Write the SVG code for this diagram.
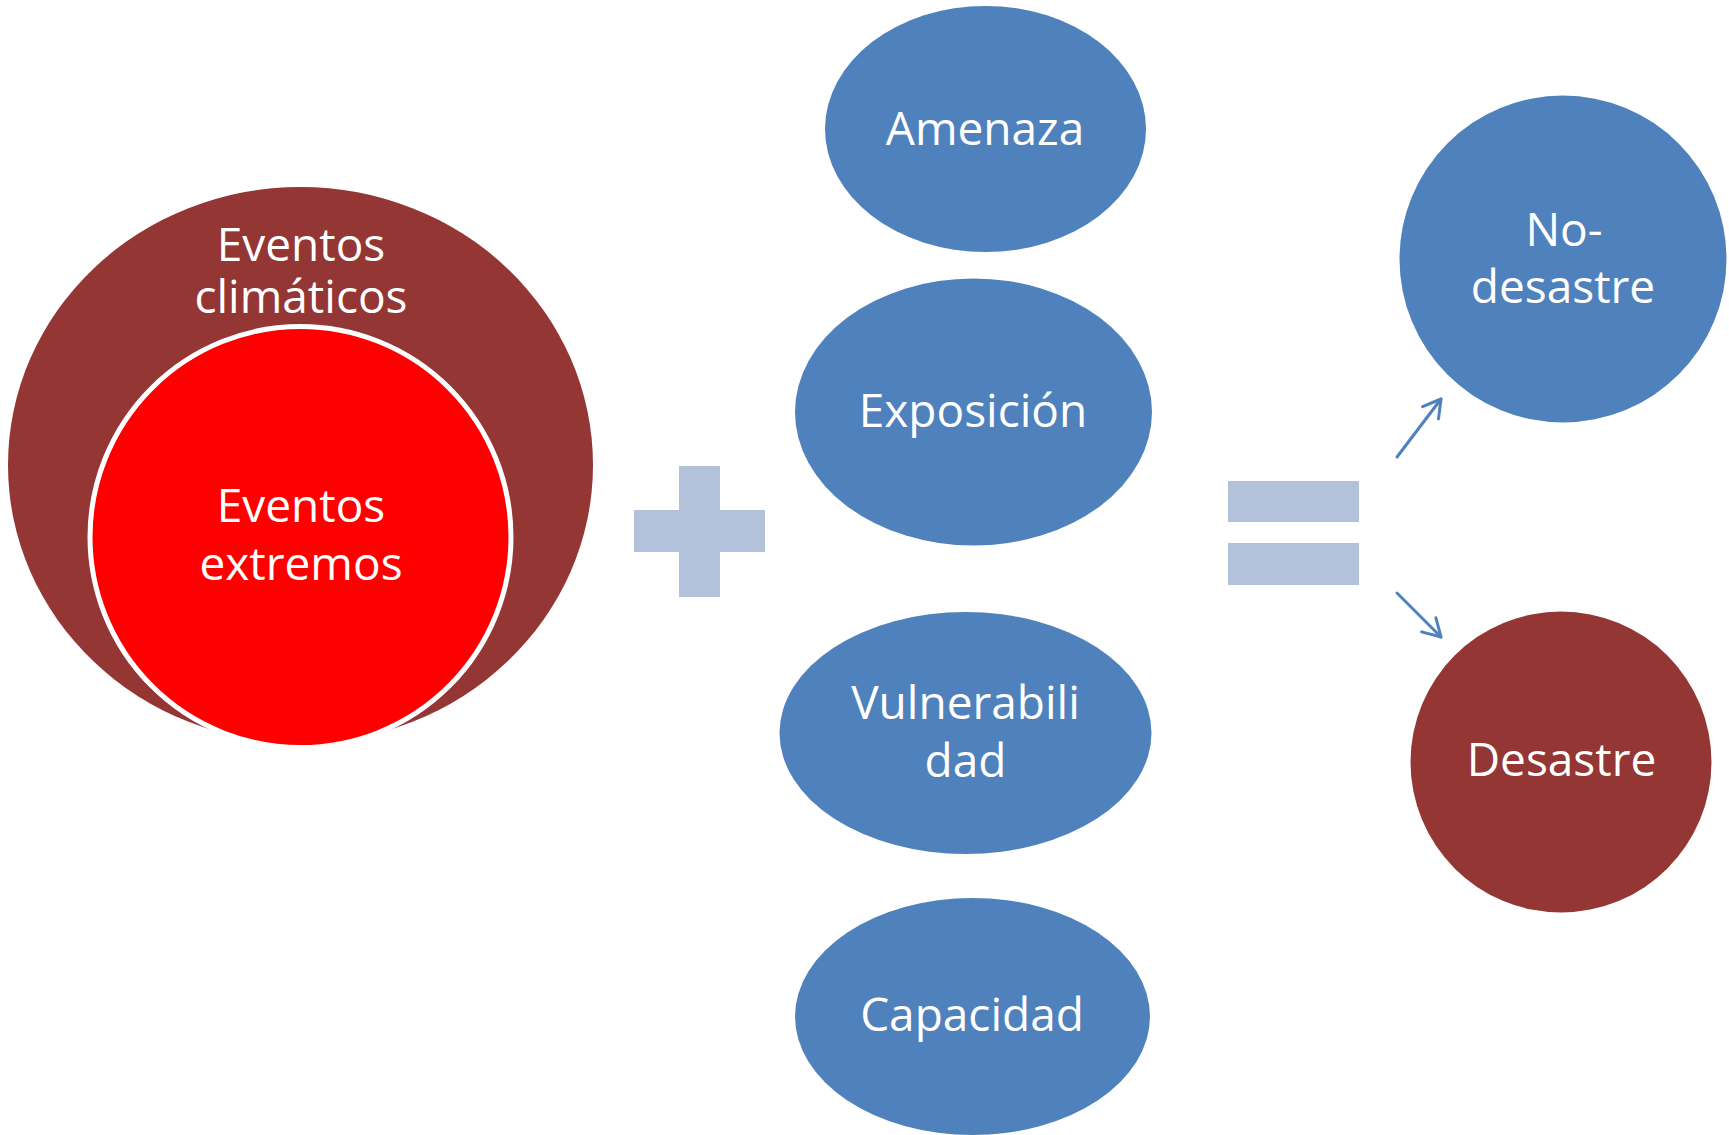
<svg xmlns="http://www.w3.org/2000/svg" width="1729" height="1135" viewBox="0 0 1729 1135">
  <defs>
    <style>
      .lbl { font-family: "Open Sans", "Liberation Sans", sans-serif; font-size: 46px; fill: #FFFFFF; text-anchor: middle; }
      .blue { fill: #4F81BD; }
      .dark { fill: #943634; }
      .sym { fill: #B3C2DB; }
      .conn { stroke: #4F81BD; stroke-width: 3; fill: none; stroke-linecap: round; }
    </style>
    <marker id="arrow" viewBox="-21 -12 24 24" refX="0" refY="0" markerWidth="24" markerHeight="24" markerUnits="userSpaceOnUse" orient="auto">
      <path d="M-17.3,-10 L0,0 L-17.3,10" fill="none" stroke="#4F81BD" stroke-width="3" stroke-linecap="round" stroke-linejoin="round"/>
    </marker>
  </defs>
  <rect width="1729" height="1135" fill="#FFFFFF"/>

  <g id="eventos-climaticos">
    <ellipse class="dark" cx="300.5" cy="465" rx="292.5" ry="278"/>
    <text class="lbl"><tspan x="301" y="261">Eventos</tspan><tspan x="301" y="313">climáticos</tspan></text>
  </g>

  <g id="eventos-extremos">
    <circle cx="300.5" cy="537" r="210.5" fill="#FF0000" stroke="#FFFFFF" stroke-width="5"/>
    <text class="lbl"><tspan x="301" y="522">Eventos</tspan><tspan x="301" y="580">extremos</tspan></text>
  </g>

  <g id="plus">
    <rect class="sym" x="679" y="466" width="41" height="131"/>
    <rect class="sym" x="634" y="510" width="131" height="42"/>
  </g>

  <g id="amenaza">
    <ellipse class="blue" cx="985.5" cy="129" rx="160.5" ry="123"/>
    <text class="lbl" x="985" y="145">Amenaza</text>
  </g>

  <g id="exposicion">
    <ellipse class="blue" cx="973.5" cy="412" rx="178.5" ry="133.5"/>
    <text class="lbl" x="973" y="427">Exposición</text>
  </g>

  <g id="vulnerabilidad">
    <ellipse class="blue" cx="965.5" cy="733" rx="186" ry="121"/>
    <text class="lbl"><tspan x="965.5" y="719">Vulnerabili</tspan><tspan x="965.5" y="777">dad</tspan></text>
  </g>

  <g id="capacidad">
    <ellipse class="blue" cx="972.5" cy="1016.5" rx="177.5" ry="118.5"/>
    <text class="lbl" x="972" y="1031">Capacidad</text>
  </g>

  <g id="equals">
    <rect class="sym" x="1228" y="481" width="131" height="41"/>
    <rect class="sym" x="1228" y="543" width="131" height="42"/>
  </g>

  <g id="no-desastre">
    <circle class="blue" cx="1563" cy="259" r="163.5"/>
    <text class="lbl"><tspan x="1564" y="246">No-</tspan><tspan x="1563" y="303">desastre</tspan></text>
  </g>

  <g id="desastre">
    <circle class="dark" cx="1561" cy="762" r="150.5"/>
    <text class="lbl" x="1561.5" y="776">Desastre</text>
  </g>

  <g id="connectors">
    <line class="conn" x1="1397" y1="457" x2="1441" y2="399" marker-end="url(#arrow)"/>
    <line class="conn" x1="1397" y1="593" x2="1441" y2="637" marker-end="url(#arrow)"/>
  </g>
</svg>
